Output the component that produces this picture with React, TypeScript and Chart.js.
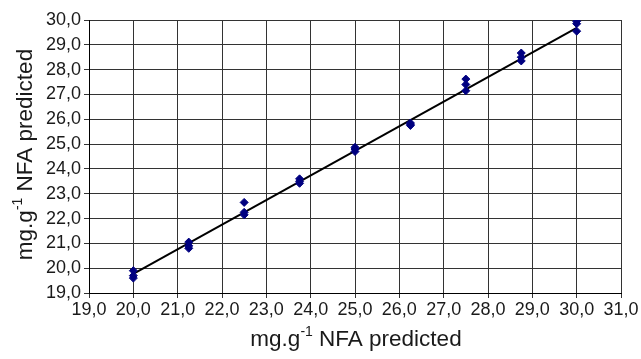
import React, { useEffect, useRef } from "react";
import { Chart, registerables } from "chart.js";

Chart.register(...registerables);

const xLevels = [20, 21.25, 22.5, 23.75, 25, 26.25, 27.5, 28.75, 30];
const rep1 = [19.9, 21.05, 22.65, 23.6, 24.87, 25.85, 27.62, 28.67, 29.95];
const rep2 = [19.7, 20.9, 22.25, 23.5, 24.8, 25.8, 27.4, 28.5, 29.85];
const rep3 = [19.6, 20.8, 22.15, 23.42, 24.7, 25.75, 27.15, 28.35, 29.55];
const fitX = [20, 30];
const fitY = [19.77, 29.68];
const titleBase = "mg.g";
const titleSup = "-1";
const titleRest = " NFA predicted";

const FAMILY = "'Liberation Sans', Arial, sans-serif";

function drawTitle(ctx: CanvasRenderingContext2D, cx: number, cy: number, rot: number) {
  const main = `22.5px ${FAMILY}`;
  const sup = `14px ${FAMILY}`;
  ctx.save();
  ctx.translate(cx, cy);
  ctx.rotate(rot);
  ctx.fillStyle = "#1a1a1a";
  ctx.textBaseline = "middle";
  ctx.textAlign = "left";
  ctx.font = main;
  const w1 = ctx.measureText(titleBase).width;
  const w3 = ctx.measureText(titleRest).width;
  ctx.font = sup;
  const w2 = ctx.measureText(titleSup).width;
  const total = w1 + w2 + w3;
  let x = -total / 2;
  ctx.font = main;
  ctx.fillText(titleBase, x, 0);
  x += w1;
  ctx.font = sup;
  ctx.fillText(titleSup, x, -8);
  x += w2;
  ctx.font = main;
  ctx.fillText(titleRest, x, 0);
  ctx.restore();
}

const titlePlugin = {
  id: "axisTitles",
  afterDraw(chart: any) {
    const { ctx, chartArea } = chart;
    drawTitle(ctx, (chartArea.left + chartArea.right) / 2 + 1, 340, 0);
    drawTitle(ctx, 26, (chartArea.top + chartArea.bottom) / 2 - 2, -Math.PI / 2);
  },
};

export default function App() {
  const ref = useRef<HTMLCanvasElement | null>(null);
  useEffect(() => {
    if (!ref.current) return;
    const pts: { x: number; y: number }[] = [];
    [rep1, rep2, rep3].forEach((arr) =>
      arr.forEach((v, i) => pts.push({ x: xLevels[i], y: v }))
    );
    const font = { family: FAMILY, size: 18 };
    const chart = new Chart(ref.current, {
      type: "scatter",
      data: {
        datasets: [
          {
            type: "line",
            data: fitX.map((x, i) => ({ x, y: fitY[i] })),
            borderColor: "#000",
            borderWidth: 2,
            pointRadius: 0,
            order: 2,
          } as any,
          {
            data: pts,
            pointStyle: "rectRot",
            pointRadius: 4,
            backgroundColor: "#000080",
            borderColor: "#000080",
            order: 1,
          },
        ],
      },
      options: {
        animation: false,
        responsive: false,
        layout: { padding: { top: 20, right: 20, left: 0, bottom: 0 } },
        plugins: { legend: { display: false }, tooltip: { enabled: false } },
        scales: {
          x: {
            type: "linear",
            min: 19,
            max: 31,
            ticks: {
              stepSize: 1,
              color: "#1a1a1a",
              font,
              padding: 1,
              maxRotation: 0,
              autoSkip: false,
              callback: (v: any) => Number(v).toFixed(1).replace(".", ","),
            },
            grid: { color: "#333", lineWidth: 1, tickLength: 5 },
            border: { color: "#000", width: 1 },
            afterFit: (s: any) => {
              s.height = 66;
            },
          },
          y: {
            type: "linear",
            min: 19,
            max: 30,
            ticks: {
              stepSize: 1,
              color: "#1a1a1a",
              font,
              padding: 3,
              autoSkip: false,
              callback: (v: any) => Number(v).toFixed(1).replace(".", ","),
            },
            grid: { color: "#333", lineWidth: 1, tickLength: 5 },
            border: { color: "#000", width: 1 },
            afterFit: (s: any) => {
              s.width = 89;
            },
          },
        },
      },
      plugins: [titlePlugin],
    });
    return () => chart.destroy();
  }, []);
  return (
    <div style={{ position: "fixed", left: 0, top: 0, width: 641, height: 359, background: "#fff" }}>
      <canvas ref={ref} width={641} height={359} style={{ width: 641, height: 359 }} />
    </div>
  );
}
